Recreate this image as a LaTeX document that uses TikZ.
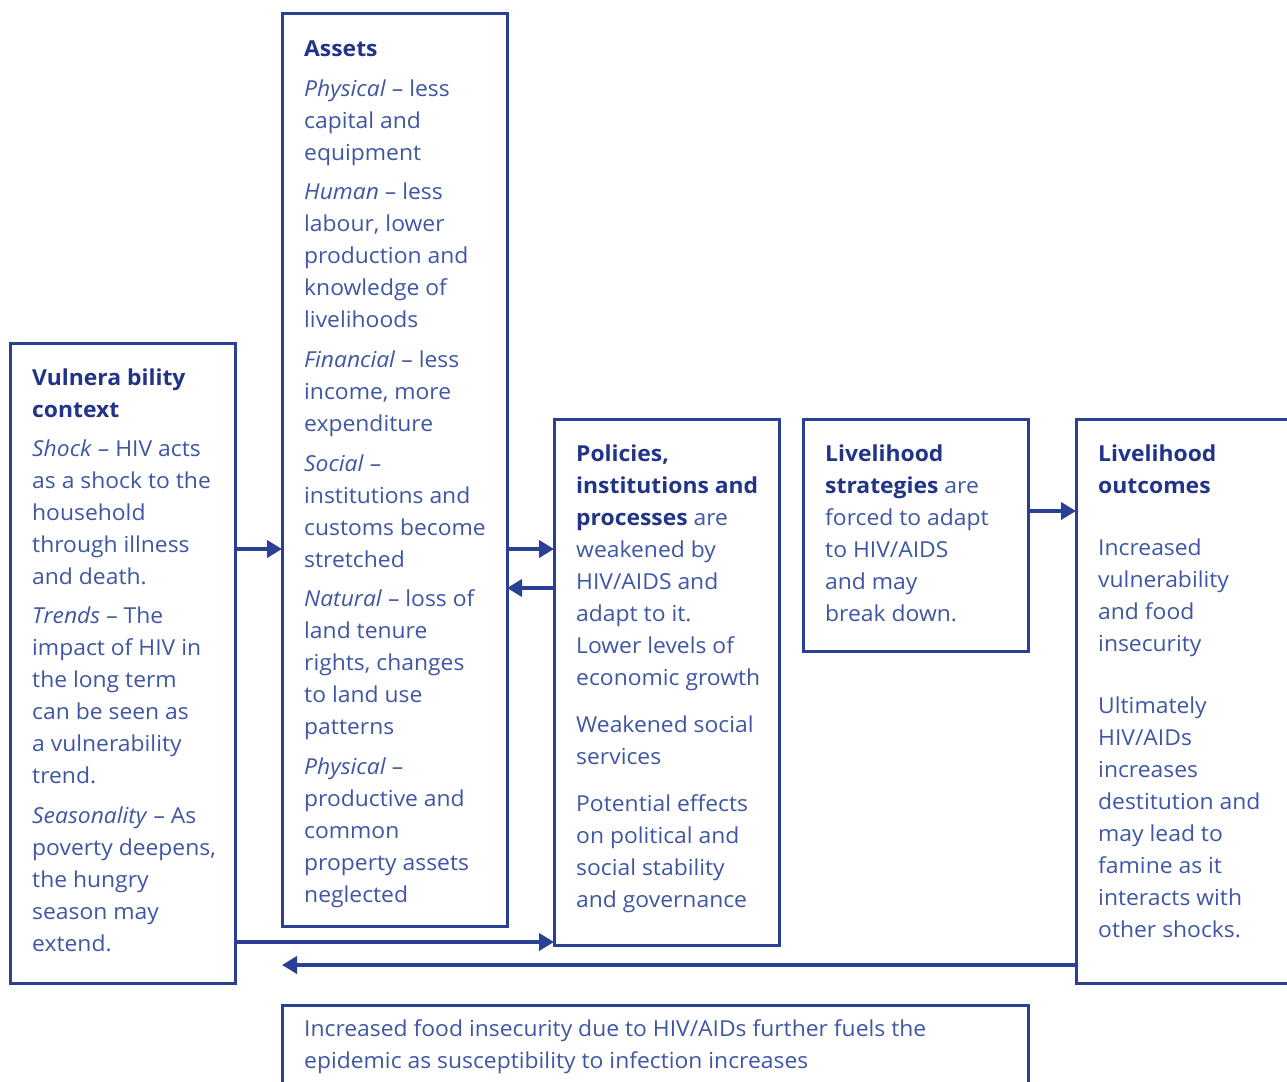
\documentclass[tikz,border=0pt]{standalone}
\usepackage{fontspec}
\setmainfont[FakeStretch=1.04]{Open Sans}
\usetikzlibrary{arrows.meta}

\definecolor{boxblue}{RGB}{42,64,148}
\definecolor{headblue}{RGB}{33,52,135}
\definecolor{textblue}{RGB}{62,86,164}
\newcommand{\hd}[1]{{\bfseries\color{headblue}#1}}

\begin{document}
\begin{tikzpicture}[x=1pt,y=-1pt,
  box/.style={draw=boxblue,line width=3pt,anchor=north west,inner sep=0pt,outer sep=0pt},
  txt/.style={anchor=north west,align=left,inner sep=0pt,text=textblue,font=\fontsize{22}{32}\selectfont},
  arr/.style={draw=boxblue,line width=4pt,-{Triangle[length=15pt,width=17pt]}}]

\useasboundingbox (0,0) rectangle (1287,1081);

% boxes
\node[box,minimum width=225,minimum height=640] (vuln) at (10,343) {};
\node[box,minimum width=225,minimum height=912] (assets) at (282,14) {};
\node[box,minimum width=225,minimum height=526] (policies) at (554,419) {};
\node[box,minimum width=225,minimum height=232] (strategies) at (803,419) {};
\node[box,minimum width=224,minimum height=564] (outcomes) at (1076,419) {};
\node[box,minimum width=746,minimum height=90] (feedback) at (282,1005) {};

% texts
\node[txt] (vulntxt) at ([xshift=22pt,yshift=-26pt]vuln.north west) {%
  \hd{Vulnera bility}\\
  \hd{context}\\[7pt]
  \textit{Shock} -- HIV acts\\
  as a shock to the\\
  household\\
  through illness\\
  and death.\\[7pt]
  \textit{Trends} -- The\\
  impact of HIV in\\
  the long term\\
  can be seen as\\
  a vulnerability\\
  trend.\\[8pt]
  \textit{Seasonality} -- As\\
  poverty deepens,\\
  the hungry\\
  season may\\
  extend.};

\node[txt] (assetstxt) at ([xshift=22pt,yshift=-27pt]assets.north west) {%
  \hd{Assets}\\[8pt]
  \textit{Physical} -- less\\
  capital and\\
  equipment\\[7pt]
  \textit{Human} -- less\\
  labour, lower\\
  production and\\
  knowledge of\\
  livelihoods\\[8pt]
  \textit{Financial} -- less\\
  income, more\\
  expenditure\\[8pt]
  \textit{Social} --\\
  institutions and\\
  customs become\\
  stretched\\[7pt]
  \textit{Natural} -- loss of\\
  land tenure\\
  rights, changes\\
  to land use\\
  patterns\\[8pt]
  \textit{Physical} --\\
  productive and\\
  common\\
  property assets\\
  neglected};

\node[txt] (policiestxt) at ([xshift=22pt,yshift=-26pt]policies.north west) {%
  \hd{Policies,}\\
  \hd{institutions and}\\
  \hd{processes} are\\
  weakened by\\
  HIV/AIDS and\\
  adapt to it.\\
  Lower levels of\\
  economic growth\\[15pt]
  Weakened social\\
  services\\[15pt]
  Potential effects\\
  on political and\\
  social stability\\
  and governance};

\node[txt] (strategiestxt) at ([xshift=22pt,yshift=-26pt]strategies.north west) {%
  \hd{Livelihood}\\
  \hd{strategies} are\\
  forced to adapt\\
  to HIV/AIDS\\
  and may\\
  break down.};

\node[txt] (outcomestxt) at ([xshift=22pt,yshift=-26pt]outcomes.north west) {%
  \hd{Livelihood}\\
  \hd{outcomes}\\[30pt]
  Increased\\
  vulnerability\\
  and food\\
  insecurity\\[30pt]
  Ultimately\\
  HIV/AIDs\\
  increases\\
  destitution and\\
  may lead to\\
  famine as it\\
  interacts with\\
  other shocks.};

\node[txt] (feedbacktxt) at ([xshift=22pt,yshift=-14pt]feedback.north west) {%
  Increased food insecurity due to HIV/AIDs further fuels the\\
  epidemic as susceptibility to infection increases};

% arrows
\coordinate (back) at (282,965);
\draw[arr] ([yshift=-206pt]vuln.north east) -- ([yshift=-535pt]assets.north west);
\draw[arr] ([yshift=-535pt]assets.north east) -- ([yshift=-130pt]policies.north west);
\draw[arr] ([yshift=-169pt]policies.north west) -- ([yshift=-574pt]assets.north east);
\draw[arr] ([yshift=-92pt]strategies.north east) -- ([yshift=-92pt]outcomes.north west);
\draw[arr] ([yshift=-599pt]vuln.north east) -- ([yshift=-523pt]policies.north west);
\draw[arr] ([yshift=-546pt]outcomes.north west) -- (back);
\end{tikzpicture}
\end{document}
